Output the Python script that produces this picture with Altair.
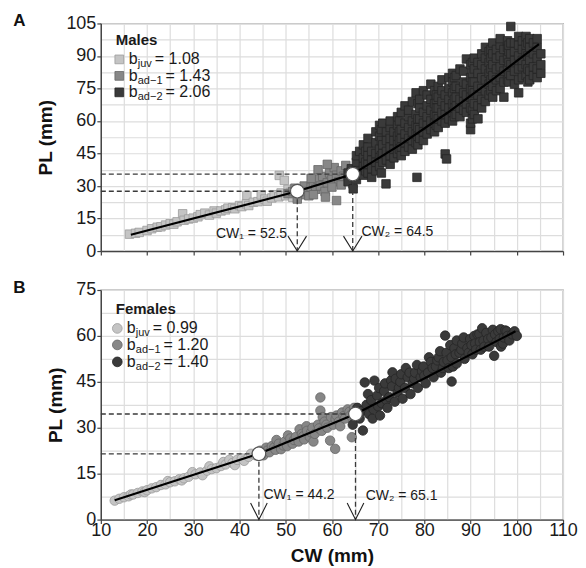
import altair as alt
import pandas as pd

FONT = "Liberation Sans"

# ---------------- Panel A : males (CW mm, PL mm) ----------------
m_juv = [(16.2, 7.8), (17.5, 8.2), (18.3, 8.6), (20.0, 9.5), (21.0, 10.3), (22.2, 11.0),
         (23.0, 11.2), (24.0, 12.0), (25.0, 12.6), (25.8, 12.4), (26.5, 13.5), (27.7, 17.2),
         (28.0, 14.2), (29.0, 14.8), (30.0, 15.2), (31.0, 15.8), (31.5, 16.8), (32.5, 17.5),
         (33.5, 16.6), (34.5, 18.5), (35.0, 17.5), (36.0, 18.5), (37.0, 19.0), (37.5, 19.8),
         (38.5, 20.0), (39.0, 19.5), (40.0, 21.0), (40.5, 20.5), (41.6, 25.6), (41.5, 21.8),
         (42.0, 21.0), (43.0, 22.5), (44.0, 22.8), (44.7, 25.9), (45.5, 24.0), (46.0, 23.0),
         (47.0, 24.5), (47.5, 26.0), (48.6, 34.9), (48.5, 25.0), (49.7, 32.6), (49.0, 26.8),
         (50.0, 25.5), (50.5, 28.5), (51.0, 27.0), (51.5, 24.8), (52.5, 26.0), (53.0, 27.5)]

m_ad1 = [(50.5, 26.5), (51.5, 27.5), (52.0, 29.0), (53.0, 28.0), (53.5, 26.0), (54.0, 30.0),
         (54.5, 27.5), (55.0, 25.5), (55.5, 29.5), (56.0, 31.0), (56.5, 28.5), (57.0, 33.0),
         (57.5, 30.0), (58.0, 34.5), (58.5, 27.5), (58.6, 24.9), (59.0, 31.5), (59.5, 36.0),
         (60.0, 33.0), (60.5, 38.5), (61.0, 23.3), (61.0, 35.0), (61.5, 32.0), (62.0, 37.0),
         (62.5, 34.5), (63.0, 39.5), (63.5, 33.0), (64.0, 36.5), (64.5, 31.0), (59.0, 40.0),
         (57.0, 37.5), (55.5, 33.5), (60.0, 29.5), (62.0, 30.5), (56.0, 26.0), (52.5, 24.0)]

# adult-2 males: carapace width followed by the penis lengths read at that width
m_ad2_rows = [
    (63.5, [32, 36]), (64.2, [38]), (64.6, [28.7]), (65.3, [33, 37, 41, 44]), (66.0, [46]),
    (66.8, [35, 39, 43, 49]), (67.3, [37, 41, 46]), (67.8, [36, 40, 44, 48, 52]),
    (68.6, [34, 38, 42, 46]), (69.5, [37, 41, 45, 50, 55]), (70.3, [39, 43, 47, 53, 58]),
    (70.7, [36, 44, 51, 56]), (71.0, [41, 45, 49, 59]),
    (71.7, [31]), (71.8, [42, 46, 51, 55]), (72.6, [40, 44, 48, 52, 57, 60]),
    (73.4, [43, 47, 51, 55]), (74.2, [45, 49, 53, 58, 62]), (74.6, [47, 51, 55, 60]),
    (75.0, [44, 48, 52, 56, 64]),
    (75.8, [46, 50, 54, 59, 67]), (76.6, [48, 52, 57, 62, 65]), (77.4, [47, 51, 55, 60, 69]),
    (78.2, [50, 54, 58, 63, 73]), (78.4, [34]), (78.6, [49, 53, 57, 61, 68]),
    (79.0, [52, 56, 61, 66, 70]),
    (79.8, [51, 55, 59, 64, 74]), (80.6, [54, 58, 62, 67, 72]), (81.4, [56, 60, 65, 70, 77]),
    (82.2, [55, 59, 63, 68, 74]), (82.6, [58, 62, 66, 70, 72]), (83.0, [57, 61, 66, 71, 76]),
    (83.8, [60, 64, 69, 74, 79]),
    (84.5, [44.8, 59, 63, 67, 72]), (84.8, [42.5]), (85.3, [61, 66, 70, 75, 80]),
    (86.1, [60, 64, 68, 73, 78, 82]), (86.5, [62, 66, 70, 75, 80]),
    (86.9, [63, 67, 71, 76, 81]), (87.7, [62, 66, 70, 75, 84]),
    (88.5, [65, 69, 73, 78, 83]), (89.1, [64, 68, 72, 77, 88.6]),
    (90.0, [56, 59, 66, 71, 75, 80, 86]), (90.4, [61, 65, 70, 74, 78, 82, 87]),
    (90.8, [63, 68, 73, 78, 84, 89]),
    (91.6, [61, 67, 72, 76, 82, 87]), (92.4, [66, 70, 75, 80, 86, 91]),
    (93.2, [69, 74, 79, 84, 89, 94]), (94.0, [72, 77, 82, 87, 92]),
    (94.4, [74, 79, 84, 89, 93]),
    (94.8, [71, 76, 81, 86, 91, 96]), (95.6, [74, 79, 84, 89, 93]),
    (96.4, [75, 80, 85, 90, 95, 98]), (97.2, [71, 78, 83, 88, 93]), (98.0, [79, 84, 89, 94, 97]),
    (98.3, [78, 82, 87, 92, 95]),
    (98.7, [81, 86, 91, 96, 103.6]), (99.5, [77, 83, 88, 92, 96]),
    (100.4, [73, 79, 84, 90, 95, 99]), (101.2, [80, 85, 88, 93, 97]),
    (102.0, [81, 86, 91, 95, 99]), (102.4, [78, 84, 90, 96]),
    (102.8, [79, 83, 88, 94, 98]), (103.6, [81, 85, 91, 96]),
    (104.4, [80, 84, 89, 94, 98]), (105.2, [82, 86, 91])]
m_ad2 = [(cw, pl) for cw, pls in m_ad2_rows for pl in pls]

m_fit = [[(16.5, 7.5), (52.5, 27.6)],
         [(52.5, 27.6), (64.5, 35.5)],
         [(64.5, 35.5), (75.0, 49.3), (85.0, 63.8), (95.0, 79.6), (104.8, 95.5)]]
m_break_cw = [52.5, 64.5]
m_break_pl = [27.6, 35.5]
m_break_text = ["CW\u2081 = 52.5", "CW\u2082 = 64.5"]
m_b = ["1.08", "1.43", "2.06"]

# ---------------- Panel B : females ----------------
f_juv = [(13.0, 6.2), (14.0, 6.8), (15.0, 7.3), (16.0, 7.6), (16.5, 8.2), (17.0, 8.2),
         (18.0, 8.7), (19.0, 9.2), (19.5, 9.0), (20.0, 9.6), (21.0, 10.2), (22.0, 10.6),
         (23.0, 11.3), (24.0, 11.5), (24.5, 12.6), (25.0, 12.2), (26.0, 12.5), (27.0, 13.2),
         (27.5, 12.8), (28.0, 13.5), (29.0, 14.0), (29.8, 15.5), (30.5, 14.8), (31.5, 15.4),
         (32.0, 14.5), (33.0, 16.0), (33.5, 17.4), (34.0, 16.5), (35.0, 16.8), (36.0, 17.5),
         (36.5, 18.8), (37.0, 18.0), (37.8, 19.5), (38.5, 18.5), (39.0, 17.8), (39.5, 19.5),
         (40.5, 20.0), (41.0, 19.2), (42.0, 20.5), (42.5, 21.5), (43.5, 21.0), (44.0, 22.2)]

f_ad1 = [(44.5, 22.5), (45.2, 21.0), (45.8, 23.5), (46.0, 22.5), (46.5, 22.0), (47.0, 24.0),
         (47.5, 23.5), (47.8, 22.8), (48.0, 26.0), (48.5, 24.8), (49.0, 23.0), (49.5, 24.2),
         (49.8, 25.5), (50.3, 24.0), (50.5, 27.5), (51.0, 26.5), (51.5, 24.8), (51.8, 26.0),
         (52.2, 27.0), (52.8, 25.5), (53.0, 29.5), (53.5, 28.0), (53.8, 27.2), (54.0, 26.2),
         (54.5, 30.5), (54.6, 29.0), (55.2, 27.0), (55.5, 28.5), (55.8, 30.0), (56.0, 25.5),
         (56.3, 28.0), (57.0, 31.0), (57.2, 29.8), (57.5, 35.6), (57.5, 39.9), (57.8, 29.0),
         (58.0, 33.5), (58.4, 32.0), (58.8, 31.0), (59.0, 30.0), (59.6, 25.8), (59.8, 33.5),
         (60.3, 31.0), (60.7, 23.1), (60.8, 32.8), (61.0, 34.0), (61.5, 32.0), (61.8, 30.5),
         (62.2, 35.0), (62.5, 33.8), (62.8, 33.0), (63.4, 36.0), (63.8, 35.2), (64.0, 34.0),
         (64.3, 26.9), (64.8, 36.5)]

f_ad2 = [(64.5, 31.0), (65.5, 36.5), (66.0, 33.0), (66.5, 35.5), (66.7, 29.1), (67.1, 44.8),
         (67.5, 37.5), (67.8, 41.0), (68.0, 34.5), (68.5, 39.0), (68.8, 33.0), (69.2, 45.4),
         (69.0, 36.0), (69.8, 40.5), (70.0, 37.0), (70.2, 43.0), (70.4, 34.0), (70.8, 38.0),
         (71.3, 42.0), (71.5, 44.5), (71.8, 39.0), (72.0, 36.5), (72.4, 40.0), (72.8, 45.5),
         (73.1, 48.1), (73.0, 43.5), (73.6, 38.5), (73.8, 46.0), (74.2, 41.5), (74.5, 43.0),
         (74.8, 45.0), (75.0, 47.5), (75.3, 39.5), (75.8, 43.0), (76.0, 49.5), (76.4, 46.5),
         (76.8, 48.0), (77.0, 41.0), (77.5, 44.5), (77.8, 46.0), (78.0, 48.0), (78.4, 50.5),
         (78.6, 43.0), (79.2, 46.5), (79.5, 48.5), (79.8, 50.0), (80.0, 47.0), (80.3, 44.5),
         (80.8, 48.0), (81.0, 53.0), (81.4, 51.5), (81.8, 49.5), (82.0, 46.5), (82.5, 50.0),
         (82.8, 52.0), (83.1, 53.0), (83.4, 55.0), (83.6, 48.0), (84.0, 49.5), (84.2, 51.5),
         (84.5, 60.1), (84.8, 54.5), (85.0, 52.0), (85.3, 49.5), (85.6, 57.0), (85.9, 45.1),
         (85.9, 53.0), (86.2, 50.0), (86.5, 56.0), (86.8, 54.0), (87.0, 51.0), (87.0, 58.5),
         (87.6, 54.5), (88.0, 55.5), (88.2, 57.5), (88.5, 59.5), (88.7, 52.5), (89.3, 56.0),
         (89.6, 54.5), (89.9, 59.0), (90.2, 57.0), (90.4, 54.0), (90.8, 60.0), (91.0, 57.5),
         (91.2, 55.5), (91.5, 60.5), (91.9, 60.6), (92.0, 58.0), (92.2, 55.5), (92.5, 62.5),
         (92.8, 58.5), (93.0, 56.5), (93.4, 61.0), (93.8, 59.0), (94.0, 56.5), (94.5, 59.5),
         (94.8, 62.0), (95.1, 53.5), (95.3, 60.5), (95.6, 58.0), (96.0, 61.5), (96.3, 59.0),
         (96.5, 62.2), (96.6, 56.5), (97.0, 57.5), (97.2, 59.5), (97.5, 61.8), (97.8, 61.5),
         (98.0, 60.0), (98.4, 58.5), (99.0, 60.5), (99.5, 61.5), (100.0, 60.0)]

f_fit = [[(13.0, 6.3), (44.2, 21.5)],
         [(44.2, 21.5), (65.1, 34.5)],
         [(65.1, 34.5), (99.7, 61.5)]]
f_break_cw = [44.2, 65.1]
f_break_pl = [21.5, 34.5]
f_break_text = ["CW\u2081 = 44.2", "CW\u2082 = 65.1"]
f_b = ["0.99", "1.20", "1.40"]

stage_sub = ["juv", "ad\u22121", "ad\u22122"]
stage_fill = ["#c4c4c4", "#878787", "#3a3a3a"]
stage_stroke = ["#9c9c9c", "#666666", "#262626"]

CHAR_W = {"j": 0.222, "u": 0.556, "v": 0.5, "a": 0.556, "d": 0.556, "\u2212": 0.584,
          "1": 0.556, "2": 0.556}

PLOT_W = 463


def one_row():
    return alt.Data(values=[{"k": 0}])


def note(text, x, y, size, weight="normal", align="left", color="#1a1a1a"):
    return alt.Chart(one_row()).mark_text(
        text=text, align=align, baseline="middle", font=FONT, fontSize=size,
        fontWeight=weight, color=color).encode(x=alt.value(x), y=alt.value(y))


def panel(points, fit, bcw, bpl, btext, bvals, header, letter, shape, msize, ymax, height,
          show_x_labels, labels_cfg, arrow_w, arrow_h, leg):
    xs = alt.Scale(domain=[10, 110], nice=False, zero=False)
    ys = alt.Scale(domain=[0, ymax], nice=False, zero=True)
    xvals = list(range(10, 111, 5))
    yvals = [i * 7.5 for i in range(int(round(ymax / 7.5)) + 1)]
    x_axis = alt.Axis(
        values=xvals, grid=True, labels=show_x_labels,
        labelExpr="datum.value % 10 === 0 ? datum.label : ''",
        tickOpacity={"condition": {"test": "datum.value % 10 === 0", "value": 1}, "value": 0},
        title="CW (mm)" if show_x_labels else None, titlePadding=7)
    y_axis = alt.Axis(
        values=yvals, grid=True,
        labelExpr="datum.value % 15 === 0 ? datum.label : ''",
        tickOpacity={"condition": {"test": "datum.value % 15 === 0", "value": 1}, "value": 0},
        title="PL (mm)", titlePadding=10)

    def X(f):
        return alt.X(f, type="quantitative", scale=xs, axis=x_axis)

    def Y(f):
        return alt.Y(f, type="quantitative", scale=ys, axis=y_axis)

    layers = []
    for pts, fill, stroke in zip(points, stage_fill, stage_stroke):
        df = pd.DataFrame(pts, columns=["cw", "pl"])
        layers.append(alt.Chart(df).mark_point(
            shape=shape, filled=True, size=msize, fill=fill, stroke=stroke,
            strokeWidth=0.8, opacity=1).encode(x=X("cw"), y=Y("pl")))

    fit_rows = [{"seg": s, "i": i, "cw": c, "pl": p}
                for s, seg in enumerate(fit) for i, (c, p) in enumerate(seg)]
    layers.append(alt.Chart(pd.DataFrame(fit_rows)).mark_line(
        color="#000000", strokeWidth=2.2).encode(
        x=X("cw"), y=Y("pl"), detail="seg:N", order="i:Q"))

    dfb = pd.DataFrame({"cw": bcw, "pl": bpl, "x0": [10] * len(bcw), "y0": [0] * len(bcw)})
    dash = dict(color="#3a3a3a", strokeWidth=1.3, strokeDash=[5, 3])
    layers.append(alt.Chart(dfb).mark_rule(**dash).encode(x=X("x0"), x2="cw", y=Y("pl")))
    layers.append(alt.Chart(dfb).mark_rule(**dash).encode(x=X("cw"), y=Y("pl"), y2="y0"))

    arrow_rows = []
    for i, c in enumerate(bcw):
        arrow_rows += [{"b": i, "k": 0, "cw": c - arrow_w, "pl": arrow_h},
                       {"b": i, "k": 1, "cw": c, "pl": 0},
                       {"b": i, "k": 2, "cw": c + arrow_w, "pl": arrow_h}]
    layers.append(alt.Chart(pd.DataFrame(arrow_rows)).mark_line(
        color="#222222", strokeWidth=1.1).encode(
        x=X("cw"), y=Y("pl"), detail="b:N", order="k:Q"))

    layers.append(alt.Chart(dfb).mark_point(
        shape="circle", filled=True, fill="white", stroke="#555555", strokeWidth=1.2,
        size=185, opacity=1).encode(x=X("cw"), y=Y("pl")))

    for i, (dx, align, ypx) in enumerate(labels_cfg):
        dfl = pd.DataFrame({"x": [bcw[i] + dx], "t": [btext[i]]})
        layers.append(alt.Chart(dfl).mark_text(
            align=align, baseline="middle", font=FONT, fontSize=14, color="#1a1a1a").encode(
            x=X("x"), y=alt.value(ypx), text="t:N"))

    # legend
    hx, hy, sx, tx, rows = leg
    layers.append(note(header, hx, hy, 15, "bold"))
    for r, ry in enumerate(rows):
        layers.append(alt.Chart(one_row()).mark_point(
            shape=shape, filled=True, size=msize + 5, fill=stage_fill[r],
            stroke=stage_stroke[r], strokeWidth=0.8, opacity=1).encode(
            x=alt.value(sx), y=alt.value(ry)))
        layers.append(note("b", tx, ry, 16))
        sub_x = tx + 9
        layers.append(note(stage_sub[r], sub_x, ry + 5, 11))
        sub_w = sum(CHAR_W[ch] for ch in stage_sub[r]) * 11
        layers.append(note("= " + bvals[r], sub_x + sub_w + 3, ry, 16))

    layers.append(note(letter, -81.5, -2, 17, "bold", "center", "#111111"))

    return alt.layer(*layers).properties(width=PLOT_W, height=height)


panel_a = panel(
    [m_juv, m_ad1, m_ad2], m_fit, m_break_cw, m_break_pl, m_break_text, m_b,
    "Males", "A", "square", 72, 105, 228, False,
    [(-2.2, "right", 211), (1.9, "left", 209)], 2.0, 6.9,
    (15, 17, 18.5, 28, [36, 52.5, 69]))

panel_b = panel(
    [f_juv, f_ad1, f_ad2], f_fit, f_break_cw, f_break_pl, f_break_text, f_b,
    "Females", "B", "circle", 90, 75, 230, True,
    [(1.0, "left", 205), (2.2, "left", 206)], 1.8, 5.4,
    (15, 19.5, 16.5, 26, [38.5, 55, 72]))

chart = alt.vconcat(panel_a, panel_b, spacing=17).properties(
    padding={"left": 4, "top": 3, "right": 0, "bottom": 0}
).configure_axis(
    labelFont=FONT, labelFontSize=18, labelColor="#1a1a1a", labelPadding=1,
    labelFlush=False, labelOverlap=False,
    titleFont=FONT, titleFontSize=19, titleFontWeight="bold", titleColor="#111111",
    domainColor="#444444", domainWidth=1.3, tickColor="#444444", tickWidth=1.2, tickSize=4,
    gridColor="#dddddd", gridWidth=1.2
).configure_axisX(labelPadding=-2).configure_view(stroke="#999999", strokeWidth=1.3)

chart.save("out.html", embed_options={"renderer": "svg", "actions": False})
